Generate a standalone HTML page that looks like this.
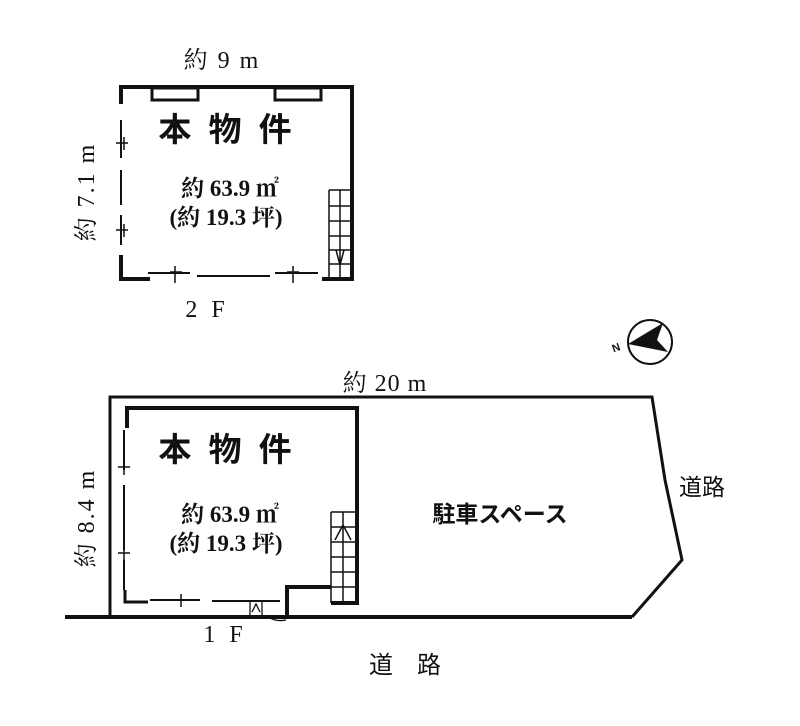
<!DOCTYPE html>
<html><head><meta charset="utf-8"><style>
body{margin:0;background:#fff}
svg{display:block}
.s{font-family:"Liberation Serif","Noto Serif CJK SC",serif;fill:#111}
.g{font-family:"Liberation Sans","Noto Sans CJK JP",sans-serif;fill:#111}
</style></head><body>
<svg width="800" height="726" viewBox="0 0 800 726" xmlns="http://www.w3.org/2000/svg">
<g stroke="#111" fill="none">
<path d="M121 104 V87 H352 V279 H322" stroke-width="4"/>
<path d="M121 255 V279 H150" stroke-width="4"/>
<path d="M121 120 V158 M121 170 V205 M121 215 V245" stroke-width="2"/>
<path d="M148 273 H190 M197 276 H270 M275 273 H318" stroke-width="2"/>
<rect x="152" y="88" width="46" height="12" stroke-width="3"/>
<rect x="275" y="88" width="46" height="12" stroke-width="3"/>
<path d="M116 143 H128 M124 137 V150 M116 230 H128 M124 224 V237 M170 272 H182 M175 266 V283 M287 272 H299 M293 266 V283" stroke-width="1.5"/>
<path d="M329 190 V278 M329 190 H350 M329 206 H350 M329 221 H350 M329 236 H350 M329 250 H350 M329 264 H350 M340 190 V278 M336 250 L340 265 L344 250" stroke-width="1.5"/>
<path d="M110 617 V397 H652 L665 480 L682 560 L632 617" stroke-width="3"/>
<path d="M65 617 H632" stroke-width="4"/>
<path d="M127 428 V408 H357 V603 H331" stroke-width="4"/>
<path d="M125 590 V602 H148" stroke-width="3"/>
<path d="M124 430 V470 M124 485 V550 M124 560 V590" stroke-width="2"/>
<path d="M150 600 H200 M212 601 H280" stroke-width="2"/>
<path d="M287 617 V587 H331" stroke-width="4"/>
<path d="M118 467 H130 M124 460 V475 M118 553 H130 M124 546 V560 M175 600 H187 M181 594 V607" stroke-width="1.5"/>
<path d="M331 512 H356 V603 M331 512 V603 M331 527 H356 M331 542 H356 M331 557 H356 M331 572 H356 M331 587 H356 M343 512 V603 M335 540 L343 525 L351 540" stroke-width="1.5"/>
<path d="M250 601 V617 M262 601 V617 M252 612 L256 604 L260 612 M268 617 Q276 622 286 620" stroke-width="1.3"/>
<circle cx="650" cy="342" r="22" stroke-width="2"/>
</g>
<path d="M628 344 L663 323 L657 340 L668 352 Z" fill="#111"/>
<text x="612" y="351" class="g" font-size="11" font-weight="bold" transform="rotate(-20 617 347)">N</text>
<text x="222" y="68" class="s" font-size="24" text-anchor="middle" letter-spacing="2">約 9 m</text>
<text x="227" y="141" class="g" font-size="33" font-weight="bold" text-anchor="middle" letter-spacing="4">本 物 件</text>
<text x="230" y="196" class="s" font-size="23" font-weight="bold" text-anchor="middle">約 63.9 ㎡</text>
<text x="226" y="225" class="s" font-size="23" font-weight="bold" text-anchor="middle">(約 19.3 坪)</text>
<text x="207" y="317" class="s" font-size="24" text-anchor="middle" letter-spacing="4">2 F</text>
<text class="s" font-size="24" text-anchor="middle" letter-spacing="2" transform="translate(94 192) rotate(-90)">約 7.1 m</text>
<text x="385" y="391" class="s" font-size="24" text-anchor="middle" letter-spacing="1">約 20 m</text>
<text x="227" y="461" class="g" font-size="33" font-weight="bold" text-anchor="middle" letter-spacing="4">本 物 件</text>
<text x="230" y="522" class="s" font-size="23" font-weight="bold" text-anchor="middle">約 63.9 ㎡</text>
<text x="226" y="551" class="s" font-size="23" font-weight="bold" text-anchor="middle">(約 19.3 坪)</text>
<text class="s" font-size="24" text-anchor="middle" letter-spacing="2" transform="translate(94 518) rotate(-90)">約 8.4 m</text>
<text x="500" y="522" class="g" font-size="23" font-weight="bold" text-anchor="middle">駐車スペース</text>
<text x="702" y="495" class="g" font-size="23" text-anchor="middle">道路</text>
<text x="225" y="642" class="s" font-size="24" text-anchor="middle" letter-spacing="4">1 F</text>
<text x="405" y="673" class="g" font-size="24" text-anchor="middle">道　路</text>
</svg>
</body></html>
